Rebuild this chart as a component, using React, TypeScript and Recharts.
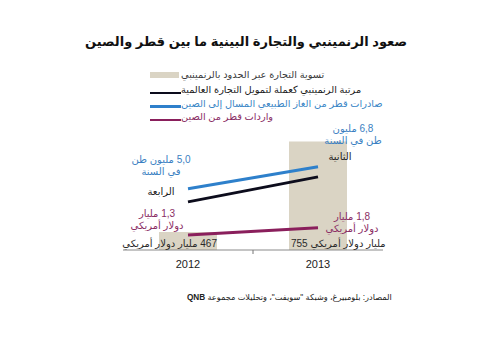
import React from "react";
import { ComposedChart, Bar, Line, XAxis, YAxis, LabelList } from "recharts";

const years = ["2012", "2013"];
const rmbSettlement = [467, 755]; // مليار دولار
const rmbRank = [4, 2];
const lngExports = [5.0, 6.8]; // مليون طن
const chinaImports = [1.3, 1.8]; // مليار دولار

const settlementLabels = ["467 مليار دولار أمريكي", "مليار دولار أمريكي 755"];
const lngLabels = [["5,0 مليون طن", "في السنة"], ["6,8 مليون", "طن في السنة"]];
const rankLabels = ["الرابعة", "الثانية"];
const importLabels = [["1,3 مليار", "دولار أمريكي"], ["1,8 مليار", "دولار أمريكي"]];

const legendNames = [
  "تسوية التجارة عبر الحدود بالرنمينبي",
  "مرتبة الرنمينبي كعملة لتمويل التجارة العالمية",
  "صادرات قطر من الغاز الطبيعي المسال إلى الصين",
  "واردات قطر من الصين",
];

const BEIGE = "#dad4c4";
const NAVY = "#0c0c1c";
const BLUE = "#2e80cb";
const PLUM = "#8a1f5c";
const FONT = "'Liberation Sans', 'DejaVu Sans', Arial, sans-serif";

const data = years.map((year, i) => ({
  year,
  settlement: rmbSettlement[i],
  rank: rmbRank[i],
  lng: lngExports[i],
  imports: chinaImports[i],
}));

const rtl = (s: string) => "\u202B" + s + "\u202C";

function pickIndex(props: any, values: number[]) {
  if (typeof props.index === "number") return props.index;
  return Math.max(0, values.indexOf(props.value));
}

// two-line note beside a line point
function makeNote(lines: string[][], values: number[], color: string, offsets: number[][]) {
  return (props: any) => {
    const i = pickIndex(props, values);
    const [dx, dy] = offsets[i];
    const cx = props.x + dx;
    const cy = props.y + dy;
    return (
      <g>
        {lines[i].map((t, k) => (
          <text key={k} x={cx} y={cy + k * 12} textAnchor="middle" dominantBaseline="central" fontSize={10} fill={color} fontFamily={FONT}>
            {rtl(t)}
          </text>
        ))}
      </g>
    );
  };
}

function SettlementNote(props: any) {
  const i = pickIndex(props, rmbSettlement);
  const bottom = props.y + props.height;
  const left = i === 0;
  return (
    <text
      x={left ? props.x + props.width : props.x + 2}
      y={bottom - 3}
      textAnchor={left ? "end" : "start"}
      fontSize={10}
      fill="#2a2a2a"
      fontFamily={FONT}
    >
      {rtl(settlementLabels[i])}
    </text>
  );
}

function YearTick(props: any) {
  const { x, y, payload } = props;
  const half = payload.offset || 65;
  return (
    <g>
      <text x={x} y={y + 10} textAnchor="middle" fontSize={11} fill="#222" fontFamily={FONT}>
        {payload.value}
      </text>
      {payload.index === 0 && <line x1={x + half} x2={x + half} y1={250} y2={254} stroke="#777" />}
    </g>
  );
}

export default function App() {
  return (
    <div style={{ position: "absolute", left: 0, top: 0, width: 480, height: 360, background: "#fff", fontFamily: FONT }}>
      <div style={{ position: "absolute", left: 0, width: 480, top: 34, textAlign: "center", paddingLeft: 12, boxSizing: "border-box", fontSize: 13, fontWeight: 700, color: "#111", direction: "rtl" }}>
        صعود الرنمينبي والتجارة البينية ما بين قطر والصين
      </div>

      {legendNames.map((name, i) => {
        const ty = [75, 90, 103.5, 117][i];
        const color = ["#3a3a3a", "#1a1a1a", "#3a86c6", "#8a2d64"][i];
        const sw = [BEIGE, NAVY, BLUE, PLUM][i];
        return (
          <React.Fragment key={name}>
            {i === 0 ? (
              <div style={{ position: "absolute", left: 150, top: ty - 3, width: 29, height: 6, background: sw }} />
            ) : (
              <div style={{ position: "absolute", left: 150, top: ty + 1.5, width: 31, height: 2.5, background: sw }} />
            )}
            <div style={{ position: "absolute", left: 181, top: ty - 6, height: 12, lineHeight: "12px", fontSize: 9.8, color, whiteSpace: "nowrap", direction: "rtl" }}>
              {name}
            </div>
          </React.Fragment>
        );
      })}

      <div style={{ position: "absolute", left: 0, top: 0 }}>
        <ComposedChart width={480} height={360} data={data} margin={{ top: 130, right: 97, left: 123, bottom: 80 }}>
          <XAxis dataKey="year" axisLine={{ stroke: "#8a8a8a" }} tickLine={false} tick={<YearTick />} interval={0} />
          <YAxis yAxisId="bar" hide domain={[410, 792]} />
          <YAxis yAxisId="lng" hide domain={[0, 9.8]} />
          <YAxis yAxisId="rank" hide reversed domain={[-1.75, 7.85]} />
          <YAxis yAxisId="imp" hide domain={[0.27, 8.49]} />
          <Bar yAxisId="bar" dataKey="settlement" fill={BEIGE} barSize={58} isAnimationActive={false}>
            <LabelList dataKey="settlement" content={<SettlementNote />} />
          </Bar>
          <Line yAxisId="rank" dataKey="rank" stroke={NAVY} strokeWidth={3} dot={false} isAnimationActive={false}>
            <LabelList
              dataKey="rank"
              content={(p: any) => {
                const i = pickIndex(p, rmbRank);
                const off = [[-27, -10], [22, -20]][i];
                return (
                  <text x={p.x + off[0]} y={p.y + off[1]} textAnchor="middle" dominantBaseline="central" fontSize={10} fill="#1a1a1a" fontFamily={FONT}>
                    {rtl(rankLabels[i])}
                  </text>
                );
              }}
            />
          </Line>
          <Line yAxisId="lng" dataKey="lng" stroke={BLUE} strokeWidth={3} dot={false} isAnimationActive={false}>
            <LabelList dataKey="lng" content={makeNote(lngLabels, lngExports, "#3a7fc2", [[-27, -29], [35, -38]])} />
          </Line>
          <Line yAxisId="imp" dataKey="imports" stroke={PLUM} strokeWidth={3} dot={false} isAnimationActive={false}>
            <LabelList dataKey="imports" content={makeNote(importLabels, chinaImports, "#8a2d64", [[-31, -21], [34, -11]])} />
          </Line>
        </ComposedChart>
      </div>

      <div style={{ position: "absolute", left: 187, top: 292, fontSize: 8.2, color: "#222", direction: "rtl", whiteSpace: "nowrap" }}>
        المصادر: بلومبيرغ، وشبكة "سويفت"، وتحليلات مجموعة <b>QNB</b>
      </div>
    </div>
  );
}
